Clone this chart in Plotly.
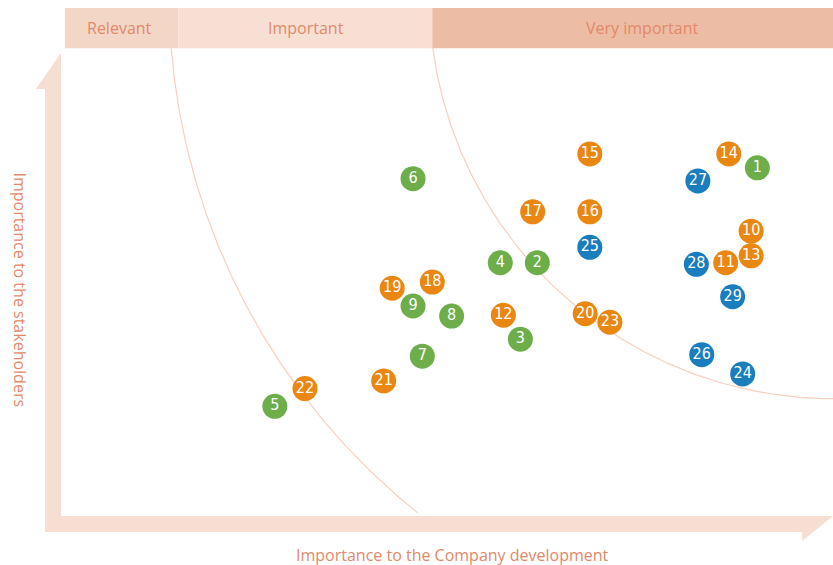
import numpy as np
import plotly.graph_objects as go

# Temas numerados, posição na matriz (0-100 nos dois eixos, mesma escala)
numeros = [1, 2, 3, 4, 5, 6, 7, 8, 9, 10, 11, 12, 13, 14, 15,
           16, 17, 18, 19, 20, 21, 22, 23, 24, 25, 26, 27, 28, 29]
empresa = [90.2, 61.7, 59.5, 56.9, 27.7, 45.6, 46.8, 50.6, 45.6, 89.4,
           86.1, 57.3, 89.4, 86.5, 68.5, 68.5, 61.1, 48.1, 42.9, 67.9,
           41.8, 31.6, 71.1, 88.3, 68.5, 83.0, 82.5, 82.3, 87.0]
stakeholders = [45.1, 32.8, 22.9, 32.8, 14.2, 43.7, 20.7, 25.9, 27.2, 36.9,
                32.8, 26.0, 33.7, 46.9, 46.9, 39.4, 39.4, 30.3, 29.5, 26.2,
                17.5, 16.5, 25.1, 18.4, 34.8, 20.9, 43.4, 32.6, 28.4]
grupos = ["verde", "verde", "verde", "verde", "verde", "verde", "verde", "verde", "verde",
          "laranja", "laranja", "laranja", "laranja", "laranja", "laranja", "laranja",
          "laranja", "laranja", "laranja", "laranja", "laranja", "laranja", "laranja",
          "azul", "azul", "azul", "azul", "azul", "azul"]

# Faixas do topo
niveis = ["Relevant", "Important", "Very important"]
limites = [0.5, 15.2, 48.1, 100]
pos_rotulo = [7.6, 31.7, 75.2]
cores_faixa = ["#F4D6C7", "#F8DFD4", "#EDBCA4"]

cores = {"azul": "#1A7DBE", "laranja": "#E98712", "verde": "#6DAE4B"}
cor_texto = "#E2896A"
cor_seta = "#F7DED2"

# Arcos concêntricos (centro no canto superior direito)
centro = (100, 67.5)
raios = [86.0, 52.3]

fig = go.Figure()

faixa_baixo, faixa_topo = 60.6, 65.8
for r in raios:
    t0 = np.arcsin((centro[1] - faixa_baixo) / r)
    t1 = np.arcsin(min(1.0, (centro[1] - 0.4) / r))
    t = np.linspace(t0, t1, 200)
    fig.add_trace(go.Scatter(
        x=centro[0] - r * np.cos(t), y=centro[1] - r * np.sin(t),
        mode="lines", line=dict(color="#F6D0BF", width=1.2),
        hoverinfo="skip", showlegend=False))

for g in ["azul", "laranja", "verde"]:
    idx = [i for i in range(len(numeros)) if grupos[i] == g]
    fig.add_trace(go.Scatter(
        x=[empresa[i] for i in idx],
        y=[stakeholders[i] for i in idx],
        text=[str(numeros[i]) for i in idx],
        mode="markers+text",
        marker=dict(size=25, color=cores[g], line=dict(width=0)),
        textposition="middle center",
        textfont=dict(family="Liberation Sans Narrow, DejaVu Sans Condensed, sans-serif",
                      size=16, color="white"),
        showlegend=False))

shapes = []
for i, nome in enumerate(niveis):
    shapes.append(dict(type="rect", xref="x", yref="y", layer="above",
                       x0=limites[i], x1=limites[i + 1] + (2 if i == 2 else 0),
                       y0=faixa_baixo, y1=faixa_topo,
                       fillcolor=cores_faixa[i], line=dict(width=0)))

# Setas dos eixos (um só polígono em L)
shapes.append(dict(type="path", xref="x", yref="y", layer="below",
                   path="M -2.07,-2.07 L -2.07,55.3 L -3.24,55.3 L 0,60.0 L 0,0 "
                        "L 100,0 L 96,-3.24 L 96,-2.07 Z",
                   fillcolor=cor_seta, line=dict(width=0)))

anotacoes = []
for i, nome in enumerate(niveis):
    anotacoes.append(dict(x=pos_rotulo[i], y=(faixa_baixo + faixa_topo) / 2,
                          text=nome, showarrow=False,
                          font=dict(family="Open Sans", size=16, color=cor_texto)))
anotacoes.append(dict(x=0.5427, y=0.0177, xref="paper", yref="paper",
                      xanchor="center", yanchor="middle",
                      text="Importance to the Company development", showarrow=False,
                      font=dict(family="Open Sans", size=16, color=cor_texto)))
anotacoes.append(dict(x=0.0245, y=0.487, xref="paper", yref="paper",
                      xanchor="center", yanchor="middle", textangle=90,
                      text="Importance to the stakeholders", showarrow=False,
                      font=dict(family="Open Sans", size=16, color=cor_texto)))

fig.update_layout(
    width=833, height=565,
    margin=dict(l=0, r=0, t=0, b=0),
    paper_bgcolor="white", plot_bgcolor="white",
    xaxis=dict(range=[-7.9, 100], visible=False, fixedrange=True),
    yaxis=dict(range=[-6.35, 66.84], visible=False, fixedrange=True),
    shapes=shapes, annotations=anotacoes,
)

# tira a margem padrão da página para a figura ocupar a janela toda
fig.write_html("out.html", config={"displayModeBar": False},
               post_script="document.body.style.margin='0';")
